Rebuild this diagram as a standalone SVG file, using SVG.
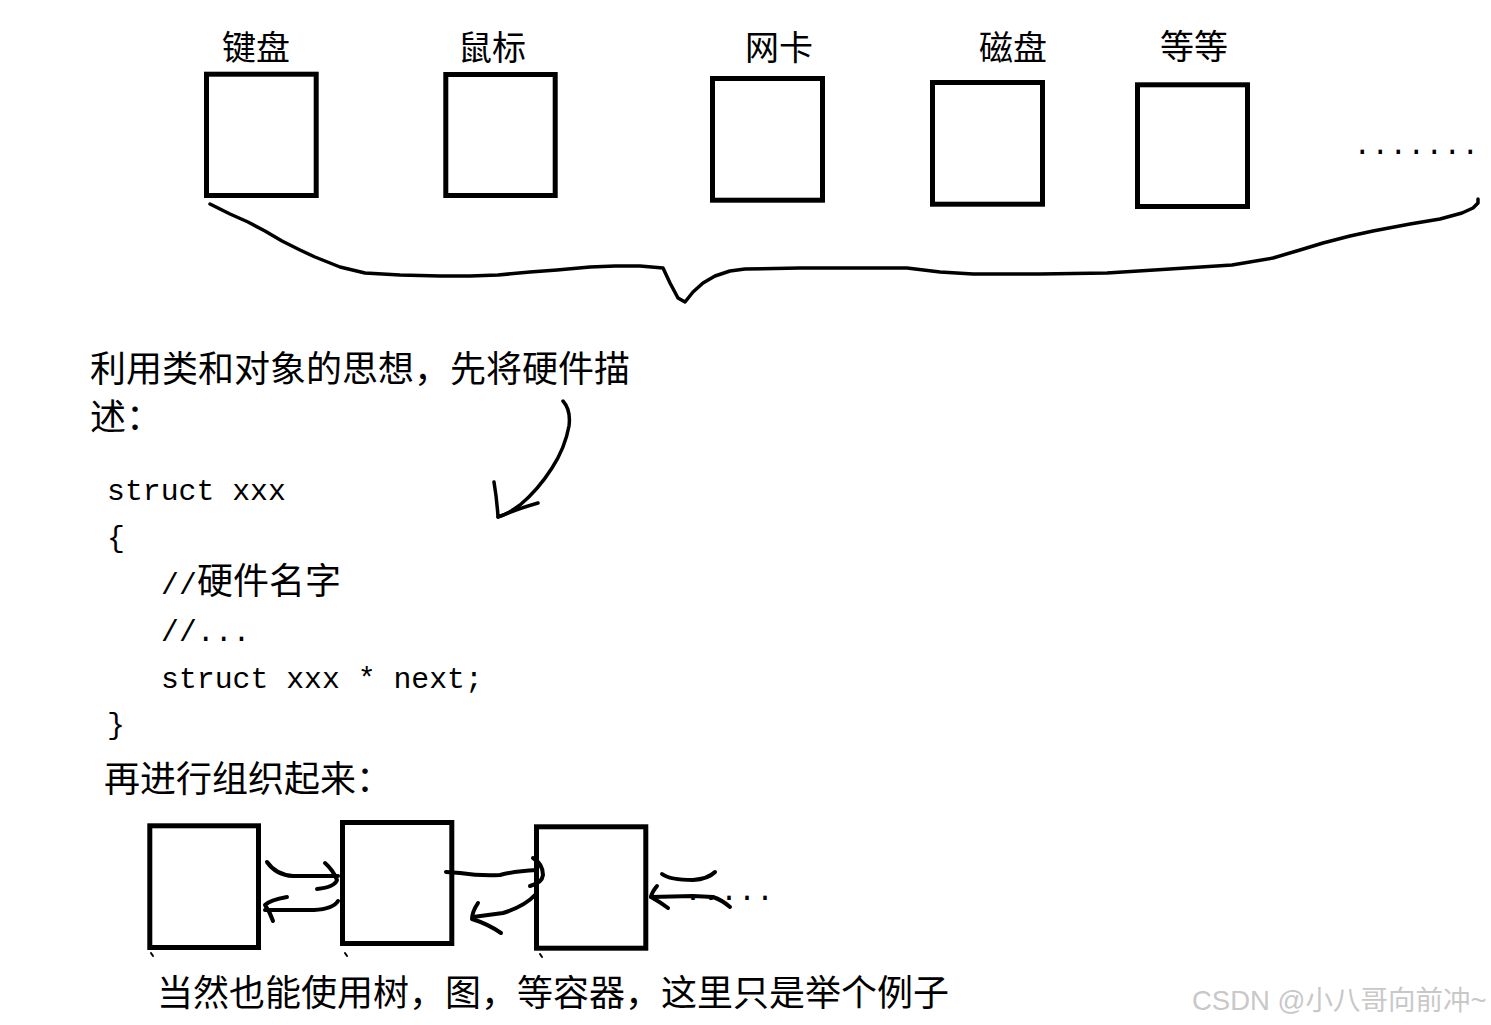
<svg xmlns="http://www.w3.org/2000/svg" width="1491" height="1025" viewBox="0 0 1491 1025">
<style>
.box{fill:none;stroke:#000;stroke-width:5}
.ink{fill:none;stroke:#000;stroke-linecap:round;stroke-linejoin:round}
.cjk{font-family:"Noto Sans CJK SC","Noto Sans",sans-serif;fill:#000}
.mono{font-family:"Liberation Mono",monospace;fill:#000}
.wm{font-family:"Liberation Sans","Noto Sans CJK SC",sans-serif;fill:#c8c8c8}
</style>
<rect width="1491" height="1025" fill="#fff"/>
<g id="node-keyboard"><rect class="box" x="206.5" y="74.2" width="109.7" height="121.3"/><text class="cjk" x="256" y="60" font-size="34" text-anchor="middle">键盘</text></g>
<g id="node-mouse"><rect class="box" x="445.8" y="74.5" width="109.4" height="121"/><text class="cjk" x="492" y="60" font-size="34" text-anchor="middle">鼠标</text></g>
<g id="node-nic"><rect class="box" x="712.5" y="78.5" width="110" height="121.7"/><text class="cjk" x="779" y="60" font-size="34" text-anchor="middle">网卡</text></g>
<g id="node-disk"><rect class="box" x="932.5" y="82.5" width="110" height="121.7"/><text class="cjk" x="1013" y="60" font-size="34" text-anchor="middle">磁盘</text></g>
<g id="node-etc"><rect class="box" x="1137.5" y="84.8" width="110" height="121.7"/><text class="cjk" x="1194" y="59" font-size="34" text-anchor="middle">等等</text></g>
<text id="more-dots" class="mono" x="1353.3" y="154" font-size="30">.......</text>
<g id="node-list-a"><rect class="box" x="149.8" y="825.8" width="108.7" height="121.7"/></g>
<g id="node-list-b"><rect class="box" x="342.5" y="822.5" width="109.3" height="121"/></g>
<g id="node-list-c"><rect class="box" x="536.5" y="826.8" width="109.3" height="121.4"/></g>
<g id="connectors">
<path class="ink" stroke-width="3.5" d="M210,204 L230,214 L248,222 L265,231 L282,241 L300,250 L315,257 L340,267 L365,273 L400,275 L440,276 L470,276 L498,275 L530,272 L557,270 L590,267 L615,266 L640,266 L663,268 L670,283 L678,298 L685,302 L693,292 L703,283 L715,276 L730,271 L745,269 L800,268 L860,268 L907,268 L940,272 L973,274 L1040,274 L1107,273 L1170,269 L1232,265 L1273,258 L1300,250 L1323,243 L1350,236 L1373,231 L1410,224 L1440,219 L1462,213 L1473,208 L1478,203 L1478,199"/>
<path class="ink" stroke-width="3.5" d="M563,401 Q571,410 569,426 Q565,448 552,468 Q538,490 520,505 Q508,514 498,517"/>
<path class="ink" stroke-width="3.5" d="M494,482 Q497,500 498,517 Q520,508 538,503"/>
<path class="ink" stroke-width="4" d="M267,862 Q276,875 293,876 L338,876"/>
<path class="ink" stroke-width="4" d="M325,863 Q333,870 337,880 Q335,887 317,889"/>
<path class="ink" stroke-width="4" d="M338,901 Q333,909 314,910 L265,910"/>
<path class="ink" stroke-width="4" d="M287,897 Q270,900 265,905 Q270,912 273,921"/>
<path class="ink" stroke-width="4" d="M446,872 L460,873 Q480,876 500,875 Q515,871 537,870"/>
<path class="ink" stroke-width="4" d="M533,858 Q543,864 543,875 Q542,883 530,886"/>
<path class="ink" stroke-width="4" d="M535,895 Q525,906 503,913 L473,917"/>
<path class="ink" stroke-width="4" d="M478,903 Q472,912 472,919 Q488,924 501,933"/>
<path class="ink" stroke-width="4" d="M662,874 Q670,880 693,880 Q708,879 715,872"/>
<path class="ink" stroke-width="4" d="M651,897 L693,896 L713,897 Q722,900 730,907"/>
<path class="ink" stroke-width="4" d="M657,886 Q652,892 651,897 Q660,902 668,908"/>
<path class="ink" stroke-width="2" d="M151,953 l2,3 M345,953 l2,3 M540,954 l2,3"/>
</g>
<text class="mono" x="684" y="900" font-size="30">.....</text>
<text class="cjk" x="90" y="382" font-size="36">利用类和对象的思想，先将硬件描</text>
<text class="cjk" x="90" y="430" font-size="36">述：</text>
<text class="mono" x="107" y="500" font-size="29.8">struct xxx</text>
<text class="mono" x="107" y="547" font-size="29.8">{</text>
<text x="161" y="594"><tspan class="mono" font-size="29.8">//</tspan><tspan class="cjk" x="197" font-size="36">硬件名字</tspan></text>
<text class="mono" x="161" y="641" font-size="29.8">//...</text>
<text class="mono" x="161" y="688" font-size="29.8">struct xxx * next;</text>
<text class="mono" x="107" y="734" font-size="29.8">}</text>
<text class="cjk" x="104" y="792" font-size="36">再进行组织起来：</text>
<text class="cjk" x="157" y="1006" font-size="36">当然也能使用树，图，等容器，这里只是举个例子</text>
<text class="wm" x="1192" y="1010" font-size="27.5">CSDN @小八哥向前冲~</text>
</svg>
